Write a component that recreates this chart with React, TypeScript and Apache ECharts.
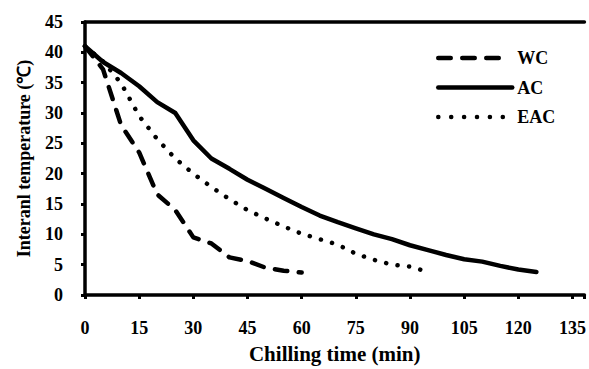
import React, { useEffect, useRef } from "react";
import * as echarts from "echarts";

const timeWC = [0, 5, 10, 15, 20, 25, 30, 35, 40, 45, 50, 55, 60];
const tempWC = [41, 37.2, 28, 23.5, 16.6, 14, 9.5, 8.5, 6.2, 5.6, 4.5, 4.0, 3.7];

const timeAC = [0, 5, 10, 15, 20, 25, 30, 35, 40, 45, 50, 55, 60, 65, 70, 75, 80, 85, 90, 95, 100, 105, 110, 115, 120, 125];
const tempAC = [41, 38.4, 36.6, 34.4, 31.8, 30, 25.5, 22.5, 20.8, 19, 17.5, 16, 14.5, 13.1, 12, 11, 10, 9.2, 8.2, 7.4, 6.6, 5.9, 5.5, 4.8, 4.2, 3.8];

const timeEAC = [0, 5, 10, 15, 20, 25, 30, 35, 40, 45, 50, 55, 60, 65, 70, 75, 80, 85, 90, 95];
const tempEAC = [41, 38.5, 34.9, 29.5, 25.7, 22.5, 20, 17.8, 15.8, 14, 12.6, 11.3, 10.1, 9.2, 8.3, 6.8, 5.8, 5.0, 4.7, 3.8];

const seriesNames = ["WC", "AC", "EAC"];
const xTitle = "Chilling time (min)";
const yTitle = "Interanl temperature (\u2103)";

const FONT = "Liberation Serif";

function pairs(xs: number[], ys: number[]) {
  return xs.map((x, i) => [x, ys[i]]);
}

export default function App() {
  const ref = useRef<HTMLDivElement>(null);
  useEffect(() => {
    if (!ref.current) return;
    const chart = echarts.init(ref.current, undefined, { renderer: "svg" });
    const XMAX = 138.3;
    const dash = [12.5, 11.5];
    const dot = [0.1, 11.5];
    chart.setOption({
      animation: false,
      backgroundColor: "#ffffff",
      textStyle: { fontFamily: FONT },
      grid: { left: 85, right: 0, top: 22, bottom: 65 },
      legend: {
        orient: "vertical",
        left: 436,
        top: 49,
        padding: 0,
        itemWidth: 74,
        itemHeight: 18,
        itemGap: 11.5,
        itemStyle: { opacity: 0 },
        lineStyle: { width: 4.5, cap: "round" },
        textStyle: { fontFamily: FONT, fontWeight: "bold", fontSize: 18, color: "#000" },
        data: [
          { name: seriesNames[0], lineStyle: { type: [12.5, 11.5, 12.5, 11.5, 12.5, 100], width: 4.5, cap: "round" } },
          { name: seriesNames[1], lineStyle: { type: "solid", width: 4.5, cap: "round" } },
          { name: seriesNames[2], lineStyle: { type: [0.1, 12.8], width: 4.5, cap: "round" } },
        ],
      },
      xAxis: [
        {
          type: "value",
          min: 0,
          max: XMAX,
          interval: 15,
          name: xTitle,
          nameLocation: "middle",
          nameGap: 48,
          nameTextStyle: { fontFamily: FONT, fontWeight: "bold", fontSize: 21, color: "#000" },
          axisLine: { show: true, onZero: false, lineStyle: { color: "#000", width: 3.5 } },
          axisTick: { show: true, inside: false, length: 4, lineStyle: { color: "#000", width: 3 } },
          axisLabel: {
            margin: 24,
            fontFamily: FONT,
            fontWeight: "bold",
            fontSize: 18,
            color: "#000",
            formatter: (v: number) => (v % 15 === 0 ? String(v) : ""),
          },
          splitLine: { show: false },
        },
        {
          type: "value",
          position: "top",
          min: 0,
          max: XMAX,
          axisLine: { show: true, onZero: false, lineStyle: { color: "#000", width: 3.5 } },
          axisTick: { show: false },
          axisLabel: { show: false },
          splitLine: { show: false },
        },
      ],
      yAxis: {
        type: "value",
        min: 0,
        max: 45,
        interval: 5,
        name: yTitle,
        nameLocation: "middle",
        nameGap: 52,
        nameTextStyle: { fontFamily: FONT, fontWeight: "bold", fontSize: 18, color: "#000" },
        axisLine: { show: true, lineStyle: { color: "#000", width: 3.5 } },
        axisTick: { show: true, inside: false, length: 4, lineStyle: { color: "#000", width: 3 } },
        axisLabel: { margin: 22, fontFamily: FONT, fontWeight: "bold", fontSize: 18, color: "#000" },
        splitLine: { show: false },
      },
      series: [
        {
          name: "WC",
          type: "line",
          data: pairs(timeWC, tempWC),
          showSymbol: false,
          symbol: "none",
          itemStyle: { color: "#000" },
          lineStyle: { color: "#000", width: 4.5, type: dash, cap: "round", join: "round" },
        },
        {
          name: "AC",
          type: "line",
          data: pairs(timeAC, tempAC),
          showSymbol: false,
          symbol: "none",
          itemStyle: { color: "#000" },
          lineStyle: { color: "#000", width: 4.5, type: "solid", cap: "round", join: "round" },
        },
        {
          name: "EAC",
          type: "line",
          data: pairs(timeEAC, tempEAC),
          showSymbol: false,
          symbol: "none",
          itemStyle: { color: "#000" },
          lineStyle: { color: "#000", width: 4.5, type: dot, cap: "round", join: "round" },
        },
      ],
    });
    return () => chart.dispose();
  }, []);
  return (
    <div
      ref={ref}
      style={{ position: "fixed", left: 0, top: 0, width: 589, height: 369, background: "#fff" }}
    />
  );
}
